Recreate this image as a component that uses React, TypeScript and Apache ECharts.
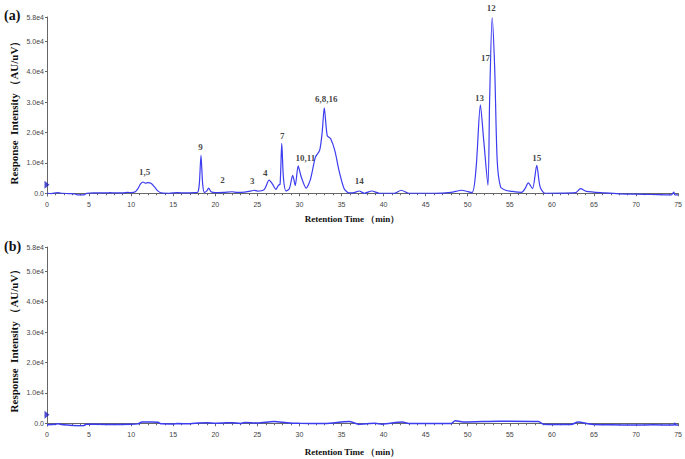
import React, { useEffect, useRef } from "react";
import * as echarts from "echarts";

// Chromatogram (a): [retention time (min), response]
const traceA: [number, number][] = [
  [0, 0], [0.5, -100], [1.0, 100], [1.3, 200], [1.8, 0], [2.5, -100], [3.3, -200], [3.6, -500],
  [4.4, -500], [4.7, 0], [5.5, 100], [7, 100], [7.5, 200], [8, 100], [9, 100], [9.6, 300], [10, 200],
  [10.5, 500], [10.8, 1500], [11.1, 3000], [11.4, 3700], [11.7, 3300], [12.0, 3500], [12.4, 3200],
  [12.8, 2000], [13.2, 700], [13.6, 100], [14.5, 0], [15.5, 200], [16.5, 100], [17.5, 200], [17.9, 300],
  [18.1, 3000], [18.3, 12500], [18.5, 3000], [18.7, 300], [19.0, 800], [19.2, 1700], [19.5, 500],
  [20, 200], [21, 300], [22, 500], [22.6, 300], [23.5, 400], [24.2, 700], [24.6, 1000], [25, 700],
  [25.8, 1200], [26.4, 4300], [26.8, 3000], [27.2, 1300], [27.5, 2600], [27.7, 3000], [27.9, 16400],
  [28.1, 5000], [28.4, 750], [28.8, 1500], [29.2, 5900], [29.5, 2600], [29.85, 9000], [30.2, 5500],
  [30.8, 1700], [31.3, 4500], [31.9, 11900], [32.4, 14100], [32.7, 20000], [32.95, 28100],
  [33.3, 19000], [33.7, 18000], [34.2, 14100], [34.7, 7500], [35.3, 1600], [35.9, 100], [36.5, 200],
  [37.1, 750], [37.7, 0], [38.6, 750], [39.5, 0], [41.3, 0], [42.1, 1000], [43, 0], [46, 0], [48, 300],
  [49.3, 1000], [50.5, 200], [51.0, 8600], [51.5, 29100], [51.9, 17400], [52.4, 2600], [52.6, 30500],
  [52.9, 57800], [53.2, 41400], [53.5, 10800], [53.9, 2100], [54.5, 1000], [55.3, 600], [56.4, 300],
  [56.8, 1500], [57.2, 3400], [57.7, 1500], [58.2, 9200], [58.6, 2100], [59.2, 0], [62.8, 200],
  [63.4, 1500], [64.1, 600], [66.3, 100], [68, -200], [70, -300], [72, -400], [74.2, -500], [74.5, 400],
  [74.6, -500], [75, -500],
];

// Chromatogram (b)
const traceB: [number, number][] = [
  [0, -450], [1, -300], [1.3, -200], [2, -500], [3, -700], [4.3, -800], [4.7, -350], [6, -350],
  [8, -400], [10, -350], [10.8, -200], [11.3, 400], [12.5, 450], [13.2, 300], [13.6, -200], [15, -250],
  [15.5, -100], [17, -150], [18, 100], [19, 200], [20, 0], [21, 100], [22, 200], [23, -100], [23.5, 250],
  [25, 100], [27, 600], [28.5, 200], [30, 0], [33, -100], [35.9, 600], [37, -300], [39, 0], [39.8, -300],
  [42.2, 400], [43, -100], [48, -100], [48.5, 800], [49.7, 400], [53.7, 700], [58.4, 600], [59, -300],
  [62.3, -400], [63.1, 400], [64.7, -300], [67, -500], [70, -600], [72, -500], [74.5, -600], [74.6, 0],
  [74.7, -600], [75, -600],
];

// Peak annotations: [label, retention time, label height]
const peakLabels: [string, number, number][] = [
  ["1,5", 11.6, 6900], ["9", 18.25, 15100], ["2", 20.85, 4300], ["3", 24.4, 3900],
  ["4", 25.95, 6600], ["7", 27.96, 19000], ["10,11", 30.7, 11500], ["6,8,16", 33.2, 31100],
  ["14", 37.1, 3900], ["13", 51.4, 31500], ["17", 52.1, 44600], ["12", 52.8, 61000], ["15", 58.2, 11500],
];

const yTicks = [0, 10000, 20000, 30000, 40000, 50000, 58000];
const xMin = 0;
const xMax = 75;
const yMin = -900;
const yMax = 58000;

const LINE = "#3c3cf0";
const AXIS = "#666";

function fmtY(v: number) {
  if (v === 0) return "0.0";
  return (v / 10000).toFixed(1) + "e4";
}

export default function App() {
  const ref = useRef<HTMLDivElement>(null);
  useEffect(() => {
    if (!ref.current) return;
    const chart = echarts.init(ref.current, null, { renderer: "svg" });
    const grids = [
      { left: 47, right: 5, top: 17, height: 179 },
      { left: 47, right: 5, top: 247, height: 179 },
    ];
    const xAxis = grids.map((_, i) => ({
      type: "value",
      gridIndex: i,
      min: xMin,
      max: xMax,
      interval: 5,
      axisLine: { lineStyle: { color: AXIS, width: 1 } },
      axisTick: { show: true, length: 3, lineStyle: { color: AXIS } },
      minorTick: { show: true, splitNumber: 5, length: 2, lineStyle: { color: AXIS } },
      splitLine: { show: false },
      axisLabel: { fontSize: 7, color: "#444", fontFamily: "Liberation Sans", margin: 5 },
    }));
    const yAxis = grids.map((_, i) => ({
      type: "value",
      gridIndex: i,
      min: yMin,
      max: yMax,
      axisLine: { show: true, lineStyle: { color: AXIS, width: 1 } },
      axisTick: { show: true, length: 2, customValues: yTicks, lineStyle: { color: AXIS } },
      splitLine: { show: false },
      axisLabel: {
        fontSize: 7,
        color: "#444",
        fontFamily: "Liberation Sans",
        margin: 3,
        customValues: yTicks,
        formatter: (v: number) => fmtY(v),
      },
    }));
    const marker = (i: number) => ({
      type: "scatter",
      xAxisIndex: i,
      yAxisIndex: i,
      data: [[0, 2800]],
      symbol: "triangle",
      symbolRotate: -90,
      symbolSize: [8, 5],
      symbolOffset: [0, 0],
      itemStyle: { color: "#2020c0" },
      clip: false,
      silent: true,
      z: 5,
    });
    const option: any = {
      animation: false,
      grid: grids,
      xAxis,
      yAxis,
      series: [
        {
          type: "line",
          xAxisIndex: 0,
          yAxisIndex: 0,
          data: traceA,
          showSymbol: false,
          smooth: 0.25,
          lineStyle: { color: LINE, width: 1.2 },
        },
        {
          type: "line",
          xAxisIndex: 1,
          yAxisIndex: 1,
          data: traceB,
          showSymbol: false,
          smooth: 0.25,
          lineStyle: { color: LINE, width: 1.5 },
        },
        {
          type: "scatter",
          xAxisIndex: 0,
          yAxisIndex: 0,
          clip: false,
          silent: true,
          symbolSize: 1,
          itemStyle: { color: "rgba(0,0,0,0)" },
          data: peakLabels.map(([n, x, y]) => ({ name: n, value: [x, y] })),
          label: {
            show: true,
            position: "inside",
            formatter: (p: any) => p.name,
            fontFamily: "Liberation Serif",
            fontWeight: "bold",
            fontSize: 9,
            color: "#111",
          },
        },
        marker(0),
        marker(1),
      ],
      graphic: [
        { type: "text", x: 4, y: 8, style: { text: "(a)", font: "bold 14px 'Liberation Serif'", fill: "#111" } },
        { type: "text", x: 4, y: 239, style: { text: "(b)", font: "bold 14px 'Liberation Serif'", fill: "#111" } },
        {
          type: "text", x: 14, y: 110, rotation: Math.PI / 2,
          style: { text: "Response  Intensity （AU/uV）", font: "bold 11px 'Liberation Serif'", fill: "#111", align: "center", verticalAlign: "middle" },
        },
        {
          type: "text", x: 14, y: 338, rotation: Math.PI / 2,
          style: { text: "Response  Intensity （AU/uV）", font: "bold 11px 'Liberation Serif'", fill: "#111", align: "center", verticalAlign: "middle" },
        },
        {
          type: "text", x: 352, y: 219,
          style: { text: "Retention Time （min）", font: "bold 9px 'Liberation Serif'", fill: "#111", align: "center", verticalAlign: "middle" },
        },
        {
          type: "text", x: 352, y: 452,
          style: { text: "Retention Time （min）", font: "bold 9px 'Liberation Serif'", fill: "#111", align: "center", verticalAlign: "middle" },
        },
      ],
    };
    chart.setOption(option);
    return () => chart.dispose();
  }, []);
  return (
    <div
      ref={ref}
      style={{ position: "fixed", left: 0, top: 0, width: 685, height: 459, background: "#fff" }}
    />
  );
}
